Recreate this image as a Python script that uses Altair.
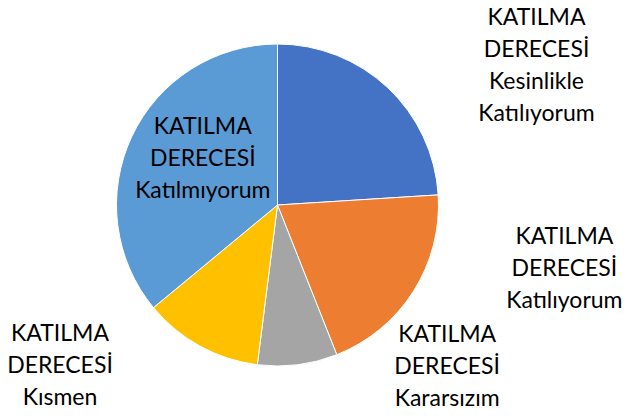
import altair as alt
import pandas as pd

categories = ["Kesinlikle Katılıyorum", "Katılıyorum", "Kararsızım", "Kısmen", "Katılmıyorum"]
values = [24, 20, 8, 12, 36]
colors = ["#4472C4", "#ED7D31", "#A5A5A5", "#FFC000", "#5B9BD5"]
prefix = "KATILMA DERECESİ"

df = pd.DataFrame({
    "category": categories,
    "value": values,
    "idx": list(range(len(categories))),
    "label": [prefix + " " + c for c in categories],
})

base = alt.Chart(df).encode(
    theta=alt.Theta("value:Q", stack=True),
    order=alt.Order("idx:Q", sort="ascending"),
)

arc = base.mark_arc(outerRadius=161, stroke="white", strokeWidth=1).encode(
    color=alt.Color("category:N", scale=alt.Scale(domain=categories, range=colors), legend=None)
)

# per-label placement: (radius, dx, dy)
placement = {
    "Kesinlikle Katılıyorum": (279, 68, 16),
    "Katılıyorum": (277, 53, -116),
    "Kararsızım": (181, 147, -50),
    "Kısmen": (246, -99, -87),
    "Katılmıyorum": (87, 4, -41),
}

layers = [arc]
for cat in categories:
    r, dx, dy = placement[cat]
    t = base.mark_text(
        radius=r, dx=dx, dy=dy, lineBreak=" ", font="Lato", fontSize=23,
        lineHeight=32, align="center", baseline="middle", color="black",
    ).encode(
        text=alt.condition(alt.datum.category == cat, "label:N", alt.value(""))
    )
    layers.append(t)

chart = alt.layer(*layers).properties(
    width=555, height=410,
    padding={"left": 0, "top": 0, "right": 77, "bottom": 8},
    autosize="none",
).configure_view(stroke=None)

chart.save("out.html", embed_options={"renderer": "svg", "actions": False})
